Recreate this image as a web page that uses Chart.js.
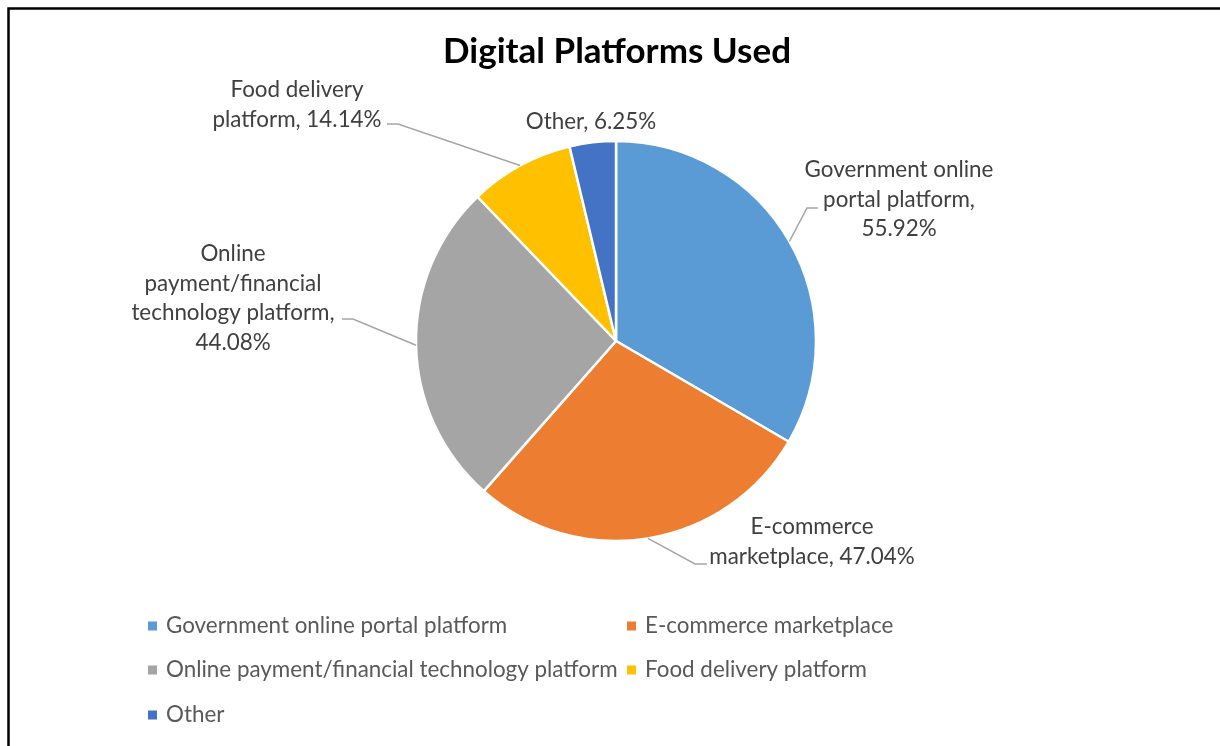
<!DOCTYPE html>
<html>
<head>
<meta charset="utf-8">
<script src="https://cdn.jsdelivr.net/npm/chart.js@4.4.1/dist/chart.umd.min.js"></script>
<style>
  html, body { margin: 0; padding: 0; background: #ffffff; }
  #wrap { position: relative; width: 1220px; height: 746px; }
</style>
</head>
<body>
<div id="wrap"><canvas id="chart" width="1220" height="746"></canvas></div>
<script>
// Survey shares (% of respondents, multiple answers allowed)
const categories = [
  'Government online portal platform',
  'E-commerce marketplace',
  'Online payment/financial technology platform',
  'Food delivery platform',
  'Other'
];
const shares = [55.92, 47.04, 44.08, 14.14, 6.25];
const sliceColors = ['#5B9BD5', '#ED7D31', '#A5A5A5', '#FFC000', '#4472C4'];
const chartTitle = 'Digital Platforms Used';

const FONT = 'Lato, "Open Sans", sans-serif';

// Where each data label sits, how wide it may wrap, and its leader elbow
const labelLayout = [
  { x: 899, y: 170, wrap: 200, elbow: [[818, 208], [807, 208]] },
  { x: 812, y: 527, wrap: 225, elbow: [[707, 564], [695, 564]] },
  { x: 233, y: 254, wrap: 212, elbow: [[342, 319], [353, 319]] },
  { x: 297, y: 90,  wrap: 178, elbow: [[387, 124], [398, 124]] },
  { x: 591, y: 122, wrap: 200, elbow: null }
];
const labelLineHeight = 29.5;

function wrapWords(ctx, text, maxWidth) {
  const words = text.split(' ');
  const lines = [];
  let cur = '';
  words.forEach(w => {
    const test = cur ? cur + ' ' + w : w;
    if (cur && ctx.measureText(test).width > maxWidth) {
      lines.push(cur);
      cur = w;
    } else {
      cur = test;
    }
  });
  if (cur) lines.push(cur);
  return lines;
}

// Outer frame, title, data labels with leader lines, and a two-column legend
const decorations = {
  id: 'decorations',
  afterDatasetsDraw(chart) {
    const ctx = chart.ctx;
    const meta = chart.getDatasetMeta(0);
    ctx.save();

    // frame
    ctx.strokeStyle = '#000000';
    ctx.lineWidth = 2.5;
    ctx.beginPath();
    ctx.moveTo(1222, 8.5);
    ctx.lineTo(8.5, 8.5);
    ctx.lineTo(8.5, 750);
    ctx.stroke();

    // title
    ctx.fillStyle = '#000000';
    ctx.font = 'bold 35px ' + FONT;
    ctx.textAlign = 'center';
    ctx.textBaseline = 'middle';
    ctx.fillText(chartTitle, 617, 52);

    // data labels
    ctx.font = '22.4px ' + FONT;
    meta.data.forEach((arc, i) => {
      const lay = labelLayout[i];
      const mid = (arc.startAngle + arc.endAngle) / 2;
      const ax = arc.x + Math.cos(mid) * arc.outerRadius;
      const ay = arc.y + Math.sin(mid) * arc.outerRadius;
      if (lay.elbow) {
        ctx.strokeStyle = '#A6A6A6';
        ctx.lineWidth = 1.5;
        ctx.beginPath();
        ctx.moveTo(lay.elbow[0][0], lay.elbow[0][1]);
        ctx.lineTo(lay.elbow[1][0], lay.elbow[1][1]);
        ctx.lineTo(ax, ay);
        ctx.stroke();
      }
      const text = categories[i] + ', ' + shares[i].toFixed(2) + '%';
      const lines = wrapWords(ctx, text, lay.wrap);
      ctx.fillStyle = '#404040';
      ctx.textAlign = 'center';
      ctx.textBaseline = 'middle';
      lines.forEach((ln, k) => ctx.fillText(ln, lay.x, lay.y + k * labelLineHeight));
    });

    // legend
    const cols = [148, 627];
    const rows = [626, 670, 715];
    ctx.font = '22.4px ' + FONT;
    ctx.textAlign = 'left';
    ctx.textBaseline = 'middle';
    categories.forEach((name, i) => {
      const cx = cols[i % 2];
      const cy = rows[Math.floor(i / 2)];
      ctx.fillStyle = sliceColors[i];
      ctx.fillRect(cx, cy - 4.5, 9, 9);
      ctx.fillStyle = '#595959';
      ctx.fillText(name, cx + 18, cy);
    });

    ctx.restore();
  }
};

new Chart(document.getElementById('chart'), {
  type: 'pie',
  data: {
    labels: categories,
    datasets: [{
      data: shares,
      backgroundColor: sliceColors,
      borderColor: '#ffffff',
      borderWidth: 2.5,
      radius: 200
    }]
  },
  options: {
    responsive: false,
    animation: false,
    layout: { padding: { left: 416, right: 404, top: 141, bottom: 205 } },
    plugins: {
      legend: { display: false },
      title: { display: false },
      tooltip: { enabled: false }
    }
  },
  plugins: [decorations]
});
</script>
</body>
</html>
